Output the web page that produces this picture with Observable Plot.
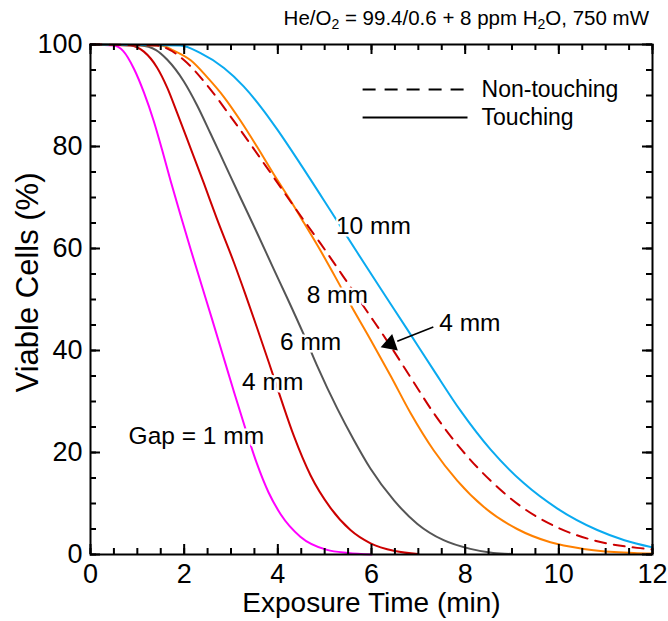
<!DOCTYPE html>
<html><head><meta charset="utf-8">
<script src="https://cdn.jsdelivr.net/npm/d3@7"></script>
<script src="https://cdn.jsdelivr.net/npm/@observablehq/plot@0.6"></script>
<style>body{margin:0;background:#fff} #chart{width:668px;height:621px}</style>
</head><body><div id="chart"></div>
<script>
// ---- data ----
const xMajorTicks = [0, 2, 4, 6, 8, 10, 12];
const xMinorTicks = d3.range(0, 12.01, 0.5);
const yMajorTicks = [0, 20, 40, 60, 80, 100];
const yMinorTicks = d3.range(0, 100.1, 5);

const t1 = [0, 0.5, 0.7, 0.93, 1.14, 1.35, 1.53, 1.71, 1.92, 2.14, 2.38, 2.60, 2.81, 3.05, 3.31, 3.55, 3.80, 4.06, 4.48, 5.05, 5.5, 6.0];
const v1 = [100, 99.8, 98.7, 95.2, 90.6, 85.0, 79.3, 73.3, 66.6, 59.8, 52.6, 46.0, 39.6, 32.3, 24.6, 17.9, 12.2, 7.9, 3.5, 0.9, 0.3, 0];

const t4 = [0, 0.85, 1.14, 1.42, 1.64, 1.85, 2.14, 2.42, 2.70, 3.06, 3.30, 3.55, 3.81, 4.06, 4.34, 4.70, 5.12, 5.55, 5.98, 6.5, 7.0];
const v4 = [100, 99.8, 98.6, 95.5, 91.5, 86.6, 79.6, 72.8, 65.8, 57.3, 51.2, 44.6, 37.6, 30.7, 23.3, 15.5, 9.2, 4.8, 2.2, 0.7, 0.1];

const t6 = [0, 1.07, 1.40, 1.64, 1.99, 2.28, 2.56, 2.85, 3.20, 3.56, 3.91, 4.20, 4.56, 4.84, 5.27, 5.62, 5.98, 6.48, 6.98, 7.54, 8.11, 8.6, 9.0];
const v6 = [100, 99.8, 98.9, 97.0, 92.8, 88.0, 82.6, 76.9, 70.0, 63.0, 56.0, 50.3, 43.0, 37.0, 28.6, 22.5, 16.8, 10.6, 6.0, 2.8, 1.1, 0.3, 0.1];

const t8 = [0, 1.5, 1.78, 2.14, 2.49, 2.85, 3.20, 3.56, 3.91, 4.27, 4.56, 4.91, 5.27, 5.55, 5.98, 6.41, 6.83, 7.33, 7.83, 8.40, 9.11, 9.82, 10.53, 11.6, 12];
const v8 = [100, 99.8, 98.8, 96.9, 93.6, 89.7, 85.1, 79.9, 74.6, 69.4, 65.0, 59.6, 53.7, 49.0, 42.1, 35.0, 27.8, 20.4, 14.5, 9.3, 5.0, 2.4, 1.1, 0.3, 0.2];

const t10 = [0, 1.92, 2.35, 2.85, 3.27, 3.70, 3.99, 4.48, 5.12, 5.69, 6.19, 6.76, 7.33, 7.90, 8.54, 9.25, 9.97, 10.82, 11.4, 12];
const v10 = [100, 99.8, 98.3, 95.4, 91.8, 87.0, 83.3, 76.6, 67.5, 59.3, 52.2, 44.2, 36.1, 28.2, 20.6, 14.0, 9.0, 4.8, 2.8, 1.4];

const t4n = [0, 1.42, 1.64, 2.06, 2.56, 2.99, 3.35, 3.84, 4.41, 4.91, 5.48, 5.91, 6.34, 6.83, 7.33, 7.90, 8.54, 9.18, 9.97, 10.82, 11.67, 12];
const v4n = [100, 99.8, 99.2, 96.4, 91.2, 85.9, 81.3, 74.9, 67.4, 61.0, 53.4, 47.6, 41.8, 34.8, 27.7, 20.8, 14.5, 9.5, 5.3, 2.6, 1.3, 1.0];

const seriesNames  = ["1 mm", "4 mm", "6 mm", "8 mm", "10 mm", "4 mm non-touching"];
const seriesKinds  = ["Touching", "Touching", "Touching", "Touching", "Touching", "Non-touching"];
const seriesT      = [t1, t4, t6, t8, t10, t4n];
const seriesV      = [v1, v4, v6, v8, v10, v4n];
const seriesColors = ["#ff00ff", "#cc0000", "#555555", "#ff8000", "#0aaaf0", "#cc0000"];

// curve labels (annotation positions in data units)
const labelText = ["Gap = 1 mm", "4 mm", "6 mm", "8 mm", "10 mm", "4 mm"];
const labelT    = [2.26, 3.89, 4.70, 5.27, 6.04, 8.10];
const labelV    = [23.3, 33.7, 41.6, 50.8, 64.3, 45.3];

// arrow for the non-touching label
const arrowFrom = {t: 7.32, v: 44.6};
const arrowTo   = {t: 6.55, v: 41.8};
const arrowTip  = {t: 6.40, v: 41.3};

// legend
const legendLabels = ["Non-touching", "Touching"];
const legendY      = [91.2, 85.7];
const legendX1 = 5.81, legendX2 = 8.05, legendTextX = 8.35;

const xLabel = "Exposure Time (min)";
const yLabel = "Viable Cells (%)";

// ---- build ----
const rows = seriesNames.flatMap((n, i) => seriesT[i].map((t, j) => ({series: n, kind: seriesKinds[i], t, v: seriesV[i][j]})));
const labels = labelText.map((text, i) => ({text, t: labelT[i], v: labelV[i]}));
const legend = legendLabels.map((label, i) => ({label, y: legendY[i]}));

const font = "'Liberation Sans', Arial, sans-serif";
const frameW = 668 - 90 - 16, frameH = 621 - 44 - 67;
// tick lengths in px converted to data units
const xTickMinor = 6 * 100 / frameH, xTickMajor = 10 * 100 / frameH;
const yTickMinor = 6 * 12 / frameW, yTickMajor = 10 * 12 / frameW;

const marks = [];
seriesNames.forEach((n, i) => {
  marks.push(Plot.line(rows.filter(d => d.series === n), {
    x: "t", y: "v", stroke: seriesColors[i], strokeWidth: 2,
    strokeDasharray: seriesKinds[i] === "Non-touching" ? "11,8" : null,
    curve: "monotone-x"
  }));
});
const tk = {stroke: "black", strokeWidth: 2};
marks.push(
  Plot.text(labels, {x: "t", y: "v", text: "text", fontSize: 24.5, fill: "black", stroke: "white", strokeWidth: 5, paintOrder: "stroke"}),
  Plot.link([0], {x1: () => arrowFrom.t, y1: () => arrowFrom.v, x2: () => arrowTo.t, y2: () => arrowTo.v, stroke: "black", strokeWidth: 1.6}),
  Plot.dot([0], {x: () => arrowTip.t, y: () => arrowTip.v, symbol: "triangle", r: 6.5, fill: "black", rotate: -109}),
  Plot.link(legend.filter(d => d.label === "Non-touching"), {x1: () => legendX1, x2: () => legendX2, y1: "y", y2: "y", stroke: "black", strokeWidth: 2, strokeDasharray: "13,9"}),
  Plot.link(legend.filter(d => d.label === "Touching"), {x1: () => legendX1, x2: () => legendX2, y1: "y", y2: "y", stroke: "black", strokeWidth: 2}),
  Plot.text(legend, {x: () => legendTextX, y: "y", text: "label", textAnchor: "start", fontSize: 23}),
  // inward ticks on all four sides
  Plot.ruleX(xMinorTicks, {x: d => d, y1: 0, y2: xTickMinor, ...tk}),
  Plot.ruleX(xMajorTicks, {x: d => d, y1: 0, y2: xTickMajor, ...tk}),
  Plot.ruleX(xMinorTicks, {x: d => d, y1: 100 - xTickMinor, y2: 100, ...tk}),
  Plot.ruleX(xMajorTicks, {x: d => d, y1: 100 - xTickMajor, y2: 100, ...tk}),
  Plot.ruleY(yMinorTicks, {y: d => d, x1: 0, x2: yTickMinor, ...tk}),
  Plot.ruleY(yMajorTicks, {y: d => d, x1: 0, x2: yTickMajor, ...tk}),
  Plot.ruleY(yMinorTicks, {y: d => d, x1: 12 - yTickMinor, x2: 12, ...tk}),
  Plot.ruleY(yMajorTicks, {y: d => d, x1: 12 - yTickMajor, x2: 12, ...tk}),
  Plot.frame({stroke: "black", strokeWidth: 2}),
  // tick labels
  Plot.axisX(xMajorTicks, {anchor: "bottom", tickSize: 0, tickPadding: 9, fontSize: 27, label: null}),
  Plot.axisY(yMajorTicks, {anchor: "left", tickSize: 0, tickPadding: 8, fontSize: 27, label: null}),
  // axis titles
  Plot.text([xLabel], {frameAnchor: "bottom", dy: 57, text: d => d, fontSize: 28}),
  Plot.text([yLabel], {frameAnchor: "left", dx: -62, dy: -17, rotate: -90, textAnchor: "middle", text: d => d, fontSize: 31})
);

const chart = Plot.plot({
  width: 668, height: 621,
  marginLeft: 90, marginRight: 16, marginTop: 44, marginBottom: 67,
  x: {domain: [0, 12]},
  y: {domain: [0, 100]},
  style: {fontFamily: font, background: "white", color: "black"},
  marks
});

// title with subscripts
const svg = d3.select(chart);
const title = svg.append("text")
  .attr("x", 649).attr("y", 25).attr("text-anchor", "end")
  .attr("font-size", 20.5).attr("font-family", font).attr("fill", "black");
const parts = [["He/O", false], ["2", true], [" = 99.4/0.6 + 8 ppm H", false], ["2", true], ["O, 750 mW", false]];
parts.forEach(([s, sub]) => {
  const ts = title.append("tspan").text(s);
  if (sub) ts.attr("font-size", 14).attr("baseline-shift", "-30%");
});

document.getElementById("chart").appendChild(chart);
</script>
</body></html>
